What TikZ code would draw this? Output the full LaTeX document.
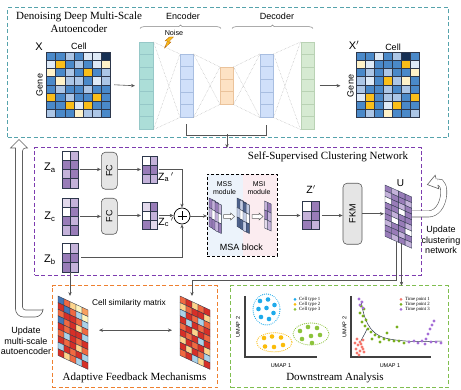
\documentclass[tikz,border=0pt]{standalone}
\usepackage{fontspec}
\setmainfont{Liberation Serif}
\setsansfont{Liberation Sans}
\usetikzlibrary{arrows.meta,decorations.pathreplacing,calc}
\definecolor{bm}{RGB}{74,137,201}
\definecolor{bl}{RGB}{172,198,230}
\definecolor{bw}{RGB}{222,234,247}
\definecolor{yy}{RGB}{250,190,25}
\definecolor{cr}{RGB}{255,242,200}
\definecolor{nv}{RGB}{22,48,84}
\definecolor{pd}{RGB}{152,124,184}
\definecolor{pm}{RGB}{196,178,218}
\definecolor{pl}{RGB}{226,217,236}
\definecolor{ww}{RGB}{255,255,255}
\definecolor{sd}{RGB}{78,98,140}
\definecolor{sl}{RGB}{196,206,230}
\definecolor{rd}{RGB}{214,47,39}
\definecolor{ro}{RGB}{240,105,65}
\definecolor{oo}{RGB}{248,160,95}
\definecolor{lo}{RGB}{253,212,140}
\definecolor{cy}{RGB}{255,245,190}
\definecolor{lb}{RGB}{170,210,232}
\definecolor{db}{RGB}{69,117,180}
\definecolor{gline}{RGB}{45,55,75}
\definecolor{dgray}{RGB}{85,85,85}
\definecolor{tealc}{RGB}{86,163,172}
\definecolor{purc}{RGB}{125,60,175}
\definecolor{orc}{RGB}{238,128,48}
\definecolor{grc}{RGB}{128,190,80}
\definecolor{ct1}{RGB}{30,170,235}
\definecolor{ct2}{RGB}{250,188,10}
\definecolor{ct3}{RGB}{140,195,60}
\definecolor{tp1}{RGB}{245,120,110}
\definecolor{tp2}{RGB}{120,175,30}
\definecolor{tp3}{RGB}{165,110,215}
\definecolor{msab}{RGB}{236,243,251}
\definecolor{msap}{RGB}{251,236,240}
\definecolor{l1f}{RGB}{172,222,216}
\definecolor{l1d}{RGB}{150,200,200}
\definecolor{l2f}{RGB}{208,224,250}
\definecolor{l2d}{RGB}{168,190,225}
\definecolor{l3f}{RGB}{253,226,196}
\definecolor{l3d}{RGB}{235,195,155}
\definecolor{l5f}{RGB}{214,234,210}
\definecolor{l5d}{RGB}{185,210,180}

\newcommand\gridmat[5]{% x, y, cw, ch, rows
  \foreach \row [count=\ri from 0] in {#5} {
    \foreach \cc [count=\ki from 0] in \row {
      \filldraw[fill=\cc, draw=gline, line width=0.4pt] ({#1+\ki*#3},{#2+\ri*#4}) rectangle ++(#3,#4);
    }
  }
}
\newcommand\skewmat[6]{% x, y, cw, ch, shift, rows
  \foreach \row [count=\ri from 0] in {#6} {
    \foreach \cc [count=\ki from 0] in \row {
      \filldraw[fill=\cc, draw=gline, line width=0.35pt]
        ({#1+\ki*#3},{#2+\ri*#4+\ki*#5}) -- ++(#3,#5) -- ++(0,#4) -- ++(-#3,-#5) -- cycle;
    }
  }
}
\newcommand\hollowarr[3]{% x, y, len
  \filldraw[fill=white, draw=gray!75!black, line width=0.5pt]
    (#1,#2-1.8) -- (#1+#3-4,#2-1.8) -- (#1+#3-4,#2-3.6) -- (#1+#3,#2) -- (#1+#3-4,#2+3.6) -- (#1+#3-4,#2+1.8) -- (#1,#2+1.8) -- cycle;
}
\newcommand\layer[8]{% name, x, y, w, h, n, fill, draw
  \node[inner sep=0pt, anchor=north west, minimum width=#4, minimum height=#5, fill=#7, draw=#8, line width=0.5pt] (#1) at (#2,#3) {};
  \foreach \li in {1,...,\numexpr#6-1\relax} {
    \draw[#8, line width=0.5pt] (#2,{#3+\li*#5/#6}) -- ++(#4,0);
  }
}

\begin{document}
\begin{tikzpicture}[x=1pt,y=-1pt,
  matn/.style={inner sep=0pt, outer sep=0pt, anchor=north west},
  arr/.style={draw=dgray, line width=0.6pt, -{Stealth[length=4pt,width=3.4pt]}},
  dblarr/.style={draw=dgray, line width=0.6pt, {Stealth[length=4pt,width=3.4pt]}-{Stealth[length=4pt,width=3.4pt]}},
  dotc/.style={draw=gray!65, densely dotted, line width=0.45pt},
  sbox/.style={draw=gray!70!black, fill=black!10, rounded corners=4pt, line width=0.6pt, inner sep=0pt, anchor=north west},
  hollow/.style={draw=gray!75!black, fill=white, line width=0.6pt},
  dbox/.style={matn, dash pattern=on 4pt off 2.5pt, line width=1pt},
  serif/.style={font=\rmfamily\fontsize{11}{13}\selectfont, align=center},
  sfn/.style={font=\sffamily\fontsize{9}{10.7}\selectfont, align=center},
  sfs/.style={font=\sffamily\fontsize{7}{8.5}\selectfont, align=center},
  sfl/.style={font=\sffamily\fontsize{11}{12}\selectfont},
  leg/.style={font=\rmfamily\fontsize{4.8}{5.5}\selectfont, anchor=west, inner sep=0.5pt},
  ax/.style={font=\sffamily\fontsize{5.5}{6}\selectfont, inner sep=0.5pt},
  pt/.style={inner sep=0pt}
]
\useasboundingbox (0,0) rectangle (461,390);

% ---------- dashed frames ----------
\node[dbox, draw=tealc, minimum width=441, minimum height=130] (tbox) at (7.5,8) {};
\node[dbox, draw=purc, minimum width=386.5, minimum height=127.5] (pbox) at (34.5,148) {};
\node[dbox, draw=orc, minimum width=165.5, minimum height=101.8] (obox) at (52,285.7) {};
\node[dbox, draw=grc, minimum width=217.5, minimum height=101.8] (gbox) at (230.5,285.7) {};

% ---------- autoencoder ----------
\node[serif] (tDen) at (79,22.5) {Denoising Deep Multi-Scale\\Autoencoder};
\node[sfn] (tEnc) at (183,16) {Encoder};
\node[sfn] (tDec) at (277,16) {Decoder};
\draw[decorate, decoration={brace, amplitude=3.5pt}, gray, line width=0.5pt] (140,28.5) -- (221,28.5);
\draw[decorate, decoration={brace, amplitude=3.5pt}, gray, line width=0.5pt] (232,28.5) -- (313,28.5);

\node[matn, minimum width=63.7, minimum height=65.6] (Xm) at (46.5,52) {};
\gridmat{46.5}{52}{9.1}{8.2}{{bm,bm,bl,bm,bw,bw,nv},{bw,yy,bm,bl,bm,bw,cr},{cr,bm,bl,bm,yy,bm,bl},{bm,cr,bl,bl,bm,bw,bl},{bm,bl,bm,bm,bl,bm,bm},{yy,bm,bl,bm,bm,yy,bm},{bm,bm,yy,bw,yy,bm,bm},{bl,bm,bm,cr,bl,bl,bm}}
\node[sfl] (tX) at (39,47) {X};
\node[sfn] (tCell1) at (79,46) {Cell};
\node[sfn, rotate=90] (tGene1) at (39.5,85) {Gene};

\layer{L1}{139}{42}{14}{87}{7}{l1f}{l1d}
\layer{L2}{180}{54}{13}{63}{5}{l2f}{l2d}
\layer{L3}{220}{67}{13}{37}{3}{l3f}{l3d}
\layer{L4}{260}{54}{13}{63}{5}{l2f}{l2d}
\layer{L5}{300.5}{42}{13.5}{87}{7}{l5f}{l5d}
\foreach \pa/\pb in {L1/L2,L2/L3,L3/L4,L4/L5} {
  \draw[dotc] (\pa.north east) -- (\pb.north west);
  \draw[dotc] (\pa.north east) -- (\pb.south west);
  \draw[dotc] (\pa.south east) -- (\pb.north west);
  \draw[dotc] (\pa.south east) -- (\pb.south west);
}
\node[sfs, font=\sffamily\fontsize{7.2}{8}\selectfont] (tNoise) at (174,33) {Noise};
\filldraw[fill=yy, draw=orange!70!black, line width=0.3pt] (173.5,37) -- (168.5,42) -- (171,42) -- (164.5,48) -- (167.5,41) -- (165,41) -- (169.5,37) -- cycle;

\draw[arr] ($(Xm.east)+(4,0)$) -- ($(L1.west)+(-4,0)$);
\draw[arr] ($(L5.east)+(5,0)$) -- ($(L5.east)+(26,0)$);

\node[matn, minimum width=63, minimum height=65.6] (Xp) at (356.5,52) {};
\gridmat{356.5}{52}{9}{8.2}{{bm,bm,bw,bm,bl,nv,bm},{cr,bw,bm,bm,bm,yy,bw},{bm,bl,bm,bl,bm,bm,cr},{bl,bw,bm,yy,bl,cr,bm},{bl,bm,bm,bl,bm,bl,bm},{bw,yy,bm,bl,bl,bm,yy},{bm,yy,bm,bw,yy,bm,bm},{bm,bl,bm,cr,bm,bm,bl}}
\node[sfl] (tXp) at (354,45) {X$'$};
\node[sfn] (tCell2) at (393,47) {Cell};
\node[sfn, rotate=90] (tGene2) at (350.5,86) {Gene};

% bracket to clustering network
\coordinate (brk) at (227,134);
\draw[dgray, line width=0.6pt] ($(L2.south)+(0,7)$) |- ($(L4.south)+(0,18)$) -- ($(L4.south)+(0,8)$);
\draw[arr] (brk) -- (brk |- pbox.north);

% ---------- clustering network ----------
\node[serif] (tSSC) at (328,157) {Self-Supervised Clustering Network};

\node[matn, minimum width=16, minimum height=36.8] (Za) at (62,151) {};
\gridmat{62}{151}{8}{9.2}{{ww,pm},{pd,pd},{pm,pd},{pd,pm}}
\node[matn, minimum width=16, minimum height=36.8] (Zc) at (62,198) {};
\gridmat{62}{198}{8}{9.2}{{pl,pm},{ww,pd},{pd,pm},{pm,pd}}
\node[matn, minimum width=16, minimum height=28.5] (Zb) at (62,243.5) {};
\gridmat{62}{243.5}{8}{9.5}{{ww,pm},{pd,pd},{pd,pm}}
\node[sfl] (tZa) at (50,168) {Z\textsubscript{a}};
\node[sfl] (tZc) at (50,217) {Z\textsubscript{c}};
\node[sfl] (tZb) at (50,260) {Z\textsubscript{b}};

\node[sbox, minimum width=16, minimum height=37] (FCa) at (101,152) {};
\node[sbox, minimum width=16, minimum height=36] (FCc) at (101,198) {};
\node[sfn, rotate=90] at (FCa.center) {FC};
\node[sfn, rotate=90] at (FCc.center) {FC};

\node[matn, minimum width=15.4, minimum height=27] (Zap) at (142,156) {};
\gridmat{142}{156}{7.7}{9}{{ww,pm},{pd,pd},{pm,pm}}
\node[matn, minimum width=15.4, minimum height=27] (Zcp) at (142,202) {};
\gridmat{142}{202}{7.7}{9}{{pl,pd},{ww,pm},{pd,pl}}
\node[sfl, font=\sffamily\fontsize{10.5}{12}\selectfont] (tZap) at (166,177) {Z\textsubscript{a}\,$'$};
\node[sfl, font=\sffamily\fontsize{10.5}{12}\selectfont] (tZcp) at (166,222) {Z\textsubscript{c}\,$'$};

\node[circle, draw=black, fill=white, minimum size=16, inner sep=0pt, line width=0.7pt] (plus) at (182,216) {};
\draw[line width=0.8pt] ($(plus.center)+(-4.5,0)$) -- ($(plus.center)+(4.5,0)$);
\draw[line width=0.8pt] ($(plus.center)+(0,-4.5)$) -- ($(plus.center)+(0,4.5)$);

\draw[arr] ($(Za.east)+(2,0)$) -- (FCa.west |- Za.east);
\draw[arr] ($(Zc.east)+(2,0)$) -- (FCc.west |- Zc.east);
\draw[arr] (FCa.east |- Zap.west) -- ($(Zap.west)+(-1,0)$);
\draw[arr] (FCc.east |- Zcp.west) -- ($(Zcp.west)+(-1,0)$);
\draw[arr] ($(Zap.east)+(2,0)$) -| (plus.north);
\draw[arr] ($(Zcp.east)+(2,0)$) -- (plus.west |- Zcp.east);
\draw[arr] ($(Zb.east)+(3,0)$) -| (plus.south);

% MSA block
\fill[msab] (207,174) rectangle (243,256);
\fill[msap] (243,174) rectangle (277,256);
\node[matn, draw=black, dash pattern=on 3pt off 2pt, line width=0.9pt, minimum width=70, minimum height=82] (msa) at (207,174) {};
\node[sfs] (tMSS) at (224.5,188) {MSS\\module};
\node[sfs] (tMSI) at (259,188) {MSI\\module};
\node[sfn] (tMSA) at (241.5,247) {MSA block};
\skewmat{209}{198}{3.2}{9.5}{1.5}{{pd,pm},{pm,ww},{pd,pm}}
\skewmat{212}{200}{3.2}{9.5}{1.5}{{pm,pd},{ww,pm},{pd,pl}}
\skewmat{215}{202}{3.2}{9.5}{1.5}{{pd,pm},{pm,ww},{pm,pd}}
\hollowarr{223.5}{216.5}{11}
\skewmat{237}{198}{3.2}{9.5}{1.5}{{sd,sl},{sl,sd},{sd,sl}}
\skewmat{240}{200}{3.2}{9.5}{1.5}{{sl,sd},{ww,sl},{sd,sd}}
\skewmat{243}{202}{3.2}{9.5}{1.5}{{sd,sl},{sl,ww},{sl,sd}}
\hollowarr{252}{216.5}{11}
\skewmat{264.5}{201}{3.3}{9}{1.5}{{pm,pd},{pd,pm},{pl,pm}}
\draw[arr] (plus.east) -- (msa.west |- plus.east);

\node[matn, minimum width=16.4, minimum height=28] (Zp) at (302.5,201.5) {};
\gridmat{302.5}{201.5}{8.2}{9.33}{{ww,pd},{pm,pd},{pd,pm}}
\node[sfl, font=\sffamily\fontsize{10.5}{12}\selectfont] (tZp) at (311,190) {Z$'$};
\draw[arr] (msa.east |- Zp.west) -- ($(Zp.west)+(-2,0)$);

\node[sbox, minimum width=19, minimum height=61] (FKM) at (342.7,183) {};
\node[sfn, rotate=90] at (FKM.center) {FKM};
\draw[arr] ($(Zp.east)+(3,0)$) -- (FKM.west |- Zp.east);

\node[matn, minimum width=26.8, minimum height=63.3] (U) at (385,185) {};
\skewmat{385}{185}{6.7}{5.7}{3}{{pd,pm,pd,pd},{pm,pd,pd,pm},{ww,pd,pm,pd},{pd,pd,ww,pd},{pd,pm,pd,pd},{pd,ww,pd,pm},{pm,pd,pd,ww},{pd,pd,pm,pd},{pd,pm,pd,pm}}
\node[sfn, font=\sffamily\fontsize{10}{12}\selectfont] (tU) at (400.5,183) {U};
\draw[arr] (FKM.east) -- ($(U.west |- FKM.east)+(-1,0)$);

% update clustering network (hollow U-turn)
\coordinate (Ue) at (412,214);
\draw[draw=gray!75!black, double=white, double distance=5.5pt, line width=0.6pt] (Ue) -- (428,214) .. controls (446,214) and (448,179) .. (437,182);
\filldraw[fill=white, draw=gray!75!black, line width=0.6pt] (437.8,184.9) -- (438.8,188.8) -- (427.4,184.6) -- (435.2,175.2) -- (436.2,179.1);
\node[sfn] (tUpd1) at (441,240) {Update\\clustering\\network};

% ---------- connectors to the lower panels ----------
\node[matn, minimum width=30, minimum height=73.4] (Lsim) at (58,296) {};
\node[matn, minimum width=30, minimum height=73.4] (Rsim) at (180,296) {};
\coordinate (Ub1) at (396.5,242);
\coordinate (Ub2) at (401.5,243.5);
\coordinate (rx) at (192,280);
\draw[arr] (Ub1) |- (rx) -- (rx |- Rsim.north);
\draw[arr] (Ub2) -- (Ub2 |- gbox.north);
\draw[arr] (Zb.south) -- (Zb.south |- Lsim.north);

% ---------- update multi-scale autoencoder (hollow) ----------
\draw[hollow] (15.5,148) [rounded corners=8pt] -- (15.5,317) -- (43,317) [sharp corners] -- (43,310) [rounded corners=3pt] -- (22.5,310) -- (22.5,148) [sharp corners] -- (27.5,148) -- (19,139.5) -- (10.5,148) -- cycle;
\node[sfn] (tUpd2) at (26,341) {Update\\multi-scale\\autoencoder};

% ---------- adaptive feedback ----------
\skewmat{58}{296}{6}{6.6}{2.8}{{db,ro,lo,cy,oo},{rd,db,ro,lb,cy},{ro,rd,rd,ro,lb},{db,ro,rd,lo,ro},{rd,ro,rd,rd,lb},{ro,lb,rd,ro,rd},{rd,ro,rd,lo,ro},{lb,rd,ro,rd,lb},{rd,lo,ro,lb,rd}}
\skewmat{180}{296}{6}{6.6}{2.8}{{ro,rd,lo,ro,rd},{lo,ro,rd,rd,lo},{lb,rd,ro,lb,ro},{rd,lb,rd,ro,rd},{ro,rd,lo,rd,ro},{rd,ro,rd,lb,rd},{lo,rd,ro,rd,lo},{rd,lo,rd,ro,lb},{ro,rd,lb,lo,rd}}
\node[sfn, font=\sffamily\fontsize{8.3}{10}\selectfont] (tCSM) at (129,303) {Cell similarity matrix};
\draw[dblarr] ($(Lsim.east)+(11,-2.5)$) -- ($(Rsim.west)+(-8,-2.5)$);
\node[serif] (tAFM) at (134.5,378) {Adaptive Feedback Mechanisms};

% ---------- downstream analysis ----------
\node[serif] (tDA) at (335,378) {Downstream Analysis};
% left plot
\draw[black!75, line width=1.3pt] (245,296) -- (245,357) -- (317,357);
\node[ax, rotate=90] (uy1) at (238,327) {UMAP 2};
\node[ax] (ux1) at (281,366) {UMAP 1};
\draw[ct1, line width=1.2pt, dash pattern=on 0.01pt off 2pt, line cap=round] (266.5,309.5) ellipse (13.5 and 15.5);
\draw[ct2, line width=1.2pt, dash pattern=on 0.01pt off 2pt, line cap=round] (274.3,342.3) ellipse (17.7 and 9.6);
\draw[ct3, line width=1.2pt, dash pattern=on 0.01pt off 2pt, line cap=round] (311,334) ellipse (18 and 11);
\foreach \p in {(260,301),(268,299.5),(274.5,305),(258.5,309),(266.5,308),(273.5,313),(261,317),(269,319)} \fill[ct1] \p circle (2.3);
\foreach \p in {(264,338),(272,336.5),(281,337.5),(265,346.5),(274,347),(283,345)} \fill[ct2] \p circle (2.3);
\foreach \p in {(300,331),(308,327),(317,328),(302,339),(311,336),(320,335),(312,343)} \fill[ct3] \p circle (2.3);
\fill[ct1] (295,299.3) circle (1.5); \node[leg] (lc1) at (298.5,299.3) {Cell type 1};
\fill[ct2] (295,304.3) circle (1.5); \node[leg] (lc2) at (298.5,304.3) {Cell type 2};
\fill[ct3] (295,309.3) circle (1.5); \node[leg] (lc3) at (298.5,309.3) {Cell type 3};
% right plot
\draw[black!75, line width=1.3pt] (351,296) -- (351,357) -- (431,357);
\node[ax, rotate=90] (uy2) at (344.5,327) {UMAP 2};
\node[ax] (ux2) at (390,366) {UMAP 1};
\draw[gline, line width=0.5pt] (361,301) .. controls (364,318) and (368,333) .. (385,338) .. controls (400,342) and (425,342) .. (442,341);
\draw[gline, line width=0.5pt] (367,329) .. controls (365,334) and (362,338) .. (360,343);
\foreach \p in {(357,339),(360,342),(363,340),(358,345),(362,347),(356,349),(360,351),(364,352),(359,355),(361,344),(355,343),(363,349),(357,353)} \fill[tp1] \p circle (1.6);
\foreach \p in {(361,306),(364,309),(360,313),(363,316),(366,320),(362,322),(365,326),(368,329),(371,332),(375,335),(372,339),(379,337),(384,339),(389,340),(394,341),(399,341),(404,343),(387,333),(397,327),(380,342)} \fill[tp2] \p circle (1.6);
\foreach \p in {(359,299),(362,302),(360,305),(363,308),(409,342),(414,341),(418,343),(422,341),(426,339),(428,334),(430,329),(432,325),(434,321),(436,342),(441,343),(431,342),(425,344)} \fill[tp3] \p circle (1.6);
\fill[tp1] (401,299.3) circle (1.5); \node[leg] (lt1) at (404.5,299.3) {Time point 1};
\fill[tp2] (401,304.3) circle (1.5); \node[leg] (lt2) at (404.5,304.3) {Time point 2};
\fill[tp3] (401,309.3) circle (1.5); \node[leg] (lt3) at (404.5,309.3) {Time point 3};
\end{tikzpicture}
\end{document}
